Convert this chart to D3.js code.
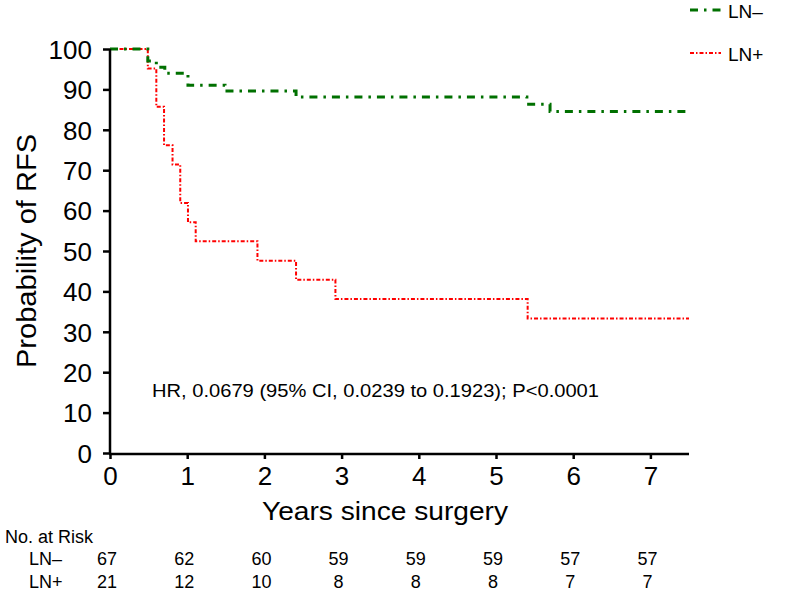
<!DOCTYPE html>
<html>
<head>
<meta charset="utf-8">
<script src="https://cdn.jsdelivr.net/npm/d3@7"></script>
<style>
  body { margin: 0; background: #fff; }
  svg text { font-family: "Liberation Sans", Arial, Helvetica, sans-serif; fill: #000; }
</style>
</head>
<body>
<svg id="chart" width="787" height="593"></svg>
<script>
/* ---------------------------------------------------
   Data
--------------------------------------------------- */

const lnNegTimes = [0, 0.49, 0.60, 0.71, 1.01, 1.49, 2.41, 5.40, 5.70];
const lnNegSurv  = [100, 97.0, 95.5, 94.0, 91.0, 89.6, 88.1, 86.3, 84.5];

const lnPosTimes = [0, 0.49, 0.60, 0.70, 0.81, 0.91, 1.01, 1.11, 1.91, 2.41, 2.92, 5.41];
const lnPosSurv  = [100, 95.2, 85.7, 76.2, 71.4, 61.9, 57.1, 52.4, 47.6, 42.9, 38.1, 33.3];

const followUpEnd = 7.5;

const yTicks = [0, 10, 20, 30, 40, 50, 60, 70, 80, 90, 100];
const xTicks = [0, 1, 2, 3, 4, 5, 6, 7];

const riskGroups = ["LN\u2013", "LN+"];
const riskNeg = [67, 62, 60, 59, 59, 59, 57, 57];
const riskPos = [21, 12, 10, 8, 8, 8, 7, 7];

const hrText = "HR, 0.0679 (95% CI, 0.0239 to 0.1923); P<0.0001";

/* ---------------------------------------------------
   Setup
--------------------------------------------------- */

const svg = d3.select("#chart");

const x = d3.scaleLinear().domain([0, followUpEnd]).range([110, 689]);
const y = d3.scaleLinear().domain([0, 100]).range([453, 49]);

const green = "#007000";
const red = "#ff0000";

/* ---------------------------------------------------
   Curves
--------------------------------------------------- */

const toSteps = (times, surv) => {
  const pts = times.map((t, i) => [t, surv[i]]);
  pts.push([followUpEnd, surv[surv.length - 1]]);
  return pts;
};

const stepLine = d3.line()
  .x(d => x(d[0]))
  .y(d => y(d[1]))
  .curve(d3.curveStepAfter);

svg.append("path")
  .attr("d", stepLine(toSteps(lnPosTimes, lnPosSurv)))
  .attr("fill", "none")
  .attr("stroke", red)
  .attr("stroke-width", 2)
  .attr("stroke-dasharray", "4,2,1.5,2");

svg.append("path")
  .attr("d", stepLine(toSteps(lnNegTimes, lnNegSurv)))
  .attr("fill", "none")
  .attr("stroke", green)
  .attr("stroke-width", 3)
  .attr("stroke-dasharray", "8,6,2.5,6");

/* ---------------------------------------------------
   Axes
--------------------------------------------------- */

const yAxis = svg.append("g")
  .attr("transform", `translate(${x(0)},0)`)
  .call(d3.axisLeft(y).tickValues(yTicks).tickSize(7).tickPadding(11));

const xAxis = svg.append("g")
  .attr("transform", `translate(0,${y(0) + 1})`)
  .call(d3.axisBottom(x).tickValues(xTicks).tickSize(5).tickPadding(8));

[yAxis, xAxis].forEach(g => {
  g.select(".domain").attr("stroke", "#000").attr("stroke-width", 2.5);
  g.selectAll(".tick line").attr("stroke", "#000").attr("stroke-width", 2.5);
  g.selectAll(".tick text")
    .attr("fill", "#000")
    .style("font-family", "'Liberation Sans', Arial, sans-serif");
});
// d3 draws the outer ticks as part of the domain; hide them
yAxis.select(".domain").attr("d", `M0,${y(0)}V${y(100)}`);
xAxis.select(".domain").attr("d", `M${x(0) - 1},0H${x(followUpEnd)}`);

yAxis.selectAll(".tick text").style("font-size", "26px").attr("dy", "0.36em");
xAxis.selectAll(".tick text").style("font-size", "26px");

svg.append("text")
  .attr("transform", "translate(36,251) rotate(-90)")
  .attr("text-anchor", "middle")
  .attr("textLength", 234)
  .attr("lengthAdjust", "spacingAndGlyphs")
  .style("font-size", "28px")
  .text("Probability of RFS");

svg.append("text")
  .attr("x", 262)
  .attr("y", 520)
  .attr("textLength", 246)
  .attr("lengthAdjust", "spacingAndGlyphs")
  .style("font-size", "26px")
  .text("Years since surgery");

svg.append("text")
  .attr("x", 152)
  .attr("y", 397)
  .attr("textLength", 447)
  .attr("lengthAdjust", "spacingAndGlyphs")
  .style("font-size", "19px")
  .text(hrText);

/* ---------------------------------------------------
   Legend
--------------------------------------------------- */

const legend = svg.append("g");
const legendItems = [
  { name: riskGroups[0], color: green, width: 3, dash: "8,6,2.5,6", y: 10 },
  { name: riskGroups[1], color: red, width: 2, dash: "4,2,1.5,2", y: 53 }
];

legendItems.forEach(d => {
  legend.append("line")
    .attr("x1", 690).attr("x2", 721)
    .attr("y1", d.y).attr("y2", d.y)
    .attr("stroke", d.color)
    .attr("stroke-width", d.width)
    .attr("stroke-dasharray", d.dash);
  legend.append("text")
    .attr("x", 728)
    .attr("y", d.y + 8)
    .style("font-size", "19px")
    .text(d.name);
});

/* ---------------------------------------------------
   Number at risk table
--------------------------------------------------- */

svg.append("text")
  .attr("x", 5)
  .attr("y", 543)
  .style("font-size", "18px")
  .text("No. at Risk");

[riskNeg, riskPos].forEach((row, r) => {
  const rowY = 565 + r * 23;
  svg.append("text")
    .attr("x", 29)
    .attr("y", rowY)
    .style("font-size", "18px")
    .text(riskGroups[r]);

  svg.append("g")
    .selectAll("text")
    .data(row)
    .join("text")
    .attr("x", (d, i) => x(xTicks[i]) - 3)
    .attr("y", rowY)
    .attr("text-anchor", "middle")
    .style("font-size", "18px")
    .text(d => d);
});
</script>
</body>
</html>
